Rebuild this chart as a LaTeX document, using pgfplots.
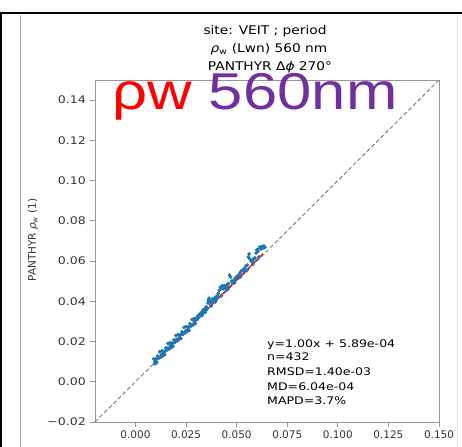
\documentclass[border=0pt]{standalone}
\usepackage{pgfplots}
\pgfplotsset{compat=1.18}
\usepackage{fontspec}
\setmainfont{DejaVu Sans}
\newfontfamily\arialfont{Liberation Sans}
\definecolor{tabblue}{RGB}{31,119,180}
\definecolor{bigpurple}{RGB}{112,48,160}
\definecolor{spine}{RGB}{150,150,150}
\begin{document}
\begin{tikzpicture}
\useasboundingbox (-95bp,-25bp) rectangle (367bp,422bp);
% screenshot frame
\draw[black, line width=1.6bp] (-95bp,409bp) -- (367bp,409bp);
\draw[black, line width=1.6bp] (-94bp,409bp) -- (-94bp,-25bp);
\draw[gray!60, line width=0.6bp] (-75bp,407bp) -- (-75bp,-25bp);
\draw[gray!25, line width=0.6bp] (362bp,407bp) -- (362bp,-25bp);
\begin{axis}[
  at={(0,0)}, anchor=south west,
  scale only axis, width=344bp, height=342bp,
  xmin=-0.02, xmax=0.15, ymin=-0.02, ymax=0.15,
  axis line style={spine, line width=0.8bp},
  tick style={spine, line width=0.8bp},
  tick align=outside, major tick length=5bp,
  xtick={0,0.025,0.05,0.075,0.1,0.125,0.15},
  xticklabels={0.000,0.025,0.050,0.075,0.100,0.125,0.150},
  ytick={-0.02,0,0.02,0.04,0.06,0.08,0.10,0.12,0.14},
  yticklabels={−0.02,0.00,0.02,0.04,0.06,0.08,0.10,0.12,0.14},
  xtick pos=bottom, ytick pos=left,
  x tick label style={font=\fontsize{10.5}{12}\selectfont, text=black!80},
  y tick label style={font=\fontsize{10.5}{12}\selectfont, text=black!80, xscale=1.2},
  clip=false,
]
\addplot[gray, dashed, line width=1bp, dash pattern=on 4bp off 2.5bp] coordinates {(-0.02,-0.02) (0.15,0.15)};
\addplot[only marks, mark=*, mark size=1.7bp, tabblue, mark options={draw=none, fill=tabblue}] coordinates {
(0.0090,0.0114) (0.0095,0.0089) (0.0100,0.0112) (0.0105,0.0095) (0.0110,0.0128) (0.0115,0.0117) (0.0120,0.0150) (0.0125,0.0123) (0.0130,0.0154) (0.0135,0.0129) (0.0140,0.0152) (0.0145,0.0135) (0.0150,0.0168) (0.0155,0.0157) (0.0160,0.0190) (0.0165,0.0163) (0.0170,0.0194) (0.0175,0.0169) (0.0180,0.0192) (0.0185,0.0175) (0.0190,0.0208) (0.0195,0.0197) (0.0200,0.0230) (0.0205,0.0203) (0.0210,0.0234) (0.0215,0.0209) (0.0220,0.0232) (0.0225,0.0215) (0.0230,0.0248) (0.0235,0.0237) (0.0240,0.0270) (0.0245,0.0243) (0.0250,0.0274) (0.0255,0.0249) (0.0260,0.0272) (0.0265,0.0255) (0.0270,0.0288) (0.0275,0.0277) (0.0280,0.0310) (0.0285,0.0283) (0.0290,0.0314) (0.0295,0.0289) (0.0300,0.0312)
(0.0098,0.0104) (0.0112,0.0119) (0.0128,0.0135) (0.0142,0.0147) (0.0158,0.0166) (0.0172,0.0178) (0.0188,0.0193) (0.0202,0.0210) (0.0218,0.0222) (0.0232,0.0240) (0.0248,0.0253) (0.0262,0.0270) (0.0278,0.0282) (0.0292,0.0300)
(0.0302,0.0318) (0.0306,0.0312) (0.0310,0.0330) (0.0314,0.0322) (0.0318,0.0336) (0.0322,0.0329) (0.0326,0.0345) (0.0330,0.0338) (0.0334,0.0356) (0.0338,0.0348) (0.0342,0.0362) (0.0346,0.0355) (0.0350,0.0372) (0.0354,0.0364) (0.0358,0.0392) (0.0360,0.0405) (0.0364,0.0415) (0.0368,0.0400) (0.0372,0.0385) (0.0376,0.0398) (0.0380,0.0410) (0.0384,0.0402) (0.0388,0.0415) (0.0392,0.0405) (0.0396,0.0420) (0.0400,0.0412) (0.0405,0.0428) (0.0410,0.0440) (0.0415,0.0455) (0.0420,0.0470) (0.0425,0.0465) (0.0430,0.0478) (0.0435,0.0462) (0.0440,0.0475) (0.0445,0.0465) (0.0450,0.0480) (0.0455,0.0472) (0.0460,0.0488) (0.0465,0.0530) (0.0470,0.0520) (0.0475,0.0500) (0.0480,0.0492) (0.0486,0.0505) (0.0492,0.0512) (0.0498,0.0520) (0.0504,0.0525) (0.0510,0.0530) (0.0516,0.0540) (0.0522,0.0548) (0.0528,0.0555) (0.0534,0.0552) (0.0540,0.0565) (0.0546,0.0575) (0.0552,0.0580) (0.0558,0.0620) (0.0562,0.0635) (0.0566,0.0610) (0.0572,0.0600) (0.0578,0.0598) (0.0584,0.0610) (0.0590,0.0615) (0.0596,0.0640) (0.0600,0.0655) (0.0605,0.0648) (0.0610,0.0662) (0.0615,0.0670) (0.0620,0.0660) (0.0625,0.0672) (0.0630,0.0665) (0.0635,0.0675) (0.0640,0.0668)
(0.0330,0.0330) (0.0345,0.0345) (0.0375,0.0378) (0.0395,0.0396) (0.0425,0.0428) (0.0455,0.0458) (0.0490,0.0492) (0.0520,0.0522) (0.0550,0.0552) (0.0580,0.0585) (0.0610,0.0620)
};
\addplot[red, line width=1.3bp] coordinates {(0.009,0.009589) (0.063,0.063589)};
\end{axis}
% title lines
\node[anchor=base, xscale=1.15, font=\fontsize{12}{14}\selectfont] at (170bp,387bp) {site: VEIT ; period};
\node[anchor=base, xscale=1.15, font=\fontsize{12}{14}\selectfont] at (174bp,369bp) {{\itshape ρ}\textsubscript{w} (Lwn) 560 nm};
\node[anchor=base, xscale=1.15, font=\fontsize{12}{14}\selectfont] at (175bp,351bp) {PANTHYR Δ{\itshape ϕ} 270°};
% y label
\node[rotate=90, font=\fontsize{10.5}{12}\selectfont, text=black!80] at (-62bp,182bp) {PANTHYR {\itshape ρ}\textsubscript{w} (1)};
% stats
\begin{scope}[every node/.style={anchor=base west, xscale=1.2, inner sep=0pt, font=\fontsize{10.5}{12}\selectfont}]
\node at (172bp,74bp) {y=1.00x + 5.89e-04};
\node at (172bp,61bp) {n=432};
\node at (172bp,46bp) {RMSD=1.40e-03};
\node at (172bp,32bp) {MD=6.04e-04};
\node at (172bp,18bp) {MAPD=3.7\%};
\end{scope}
% overlay big text
\node[anchor=base west, inner sep=0pt, xscale=1.19, font=\arialfont\fontsize{52}{60}\selectfont] at (17bp,312bp) {\textcolor{red}{ρw} \textcolor{bigpurple}{560nm}};
\end{tikzpicture}
\end{document}
